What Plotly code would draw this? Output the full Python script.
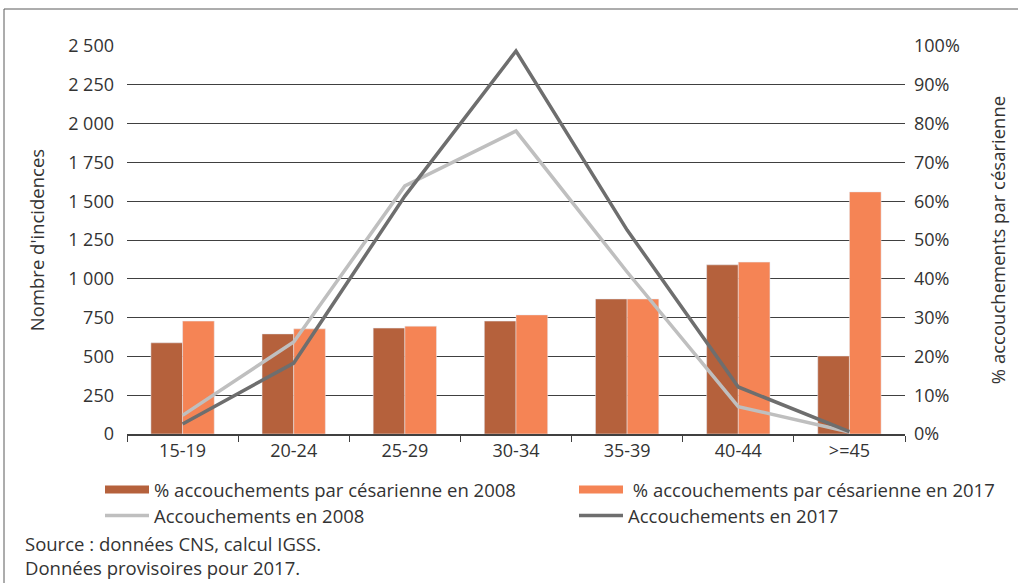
import plotly.graph_objects as go

categories = ["15-19", "20-24", "25-29", "30-34", "35-39", "40-44", ">=45"]
cesar_2008 = [23.5, 25.8, 27.3, 29.1, 34.8, 43.6, 20.1]
cesar_2017 = [29.1, 27.1, 27.8, 30.7, 34.8, 44.3, 62.4]
acc_2008 = [120, 593, 1598, 1952, 1044, 176, 13]
acc_2017 = [64, 457, 1533, 2468, 1314, 303, 15]

names = ["% accouchements par césarienne en 2008",
         " % accouchements par césarienne en 2017",
         "Accouchements en 2008",
         "Accouchements en 2017"]

C08 = "#B5613C"
C17 = "#F58455"
L08 = "#BFBFBF"
L17 = "#6E6E6E"
FONT = "Open Sans"
TXT = "#333333"
FS = 18.5

W, H = 1018, 583
ML, MR, MT, MB = 127, 113, 46, 149
PW, PH = W - ML - MR, H - MT - MB

def px(x):
    return (x - ML) / PW

def py(y):
    return (H - MB - y) / PH

fig = go.Figure()
fig.add_trace(go.Bar(x=categories, y=cesar_2008, name=names[0], marker_color=C08,
                     yaxis="y", showlegend=False))
fig.add_trace(go.Bar(x=categories, y=cesar_2017, name=names[1], marker_color=C17,
                     yaxis="y", showlegend=False))
fig.add_trace(go.Scatter(x=categories, y=acc_2008, name=names[2], mode="lines",
                         line=dict(color=L08, width=3.5), yaxis="y2", legend="legend3"))
fig.add_trace(go.Scatter(x=categories, y=acc_2017, name=names[3], mode="lines",
                         line=dict(color=L17, width=3.5), yaxis="y2", legend="legend4"))
# legend swatches for the bar series
fig.add_trace(go.Scatter(x=[None], y=[None], name=names[0], mode="lines", yaxis="y",
                         line=dict(color=C08, width=8), legend="legend"))
fig.add_trace(go.Scatter(x=[None], y=[None], name=names[1], mode="lines", yaxis="y",
                         line=dict(color=C17, width=8), legend="legend2"))

lfont = dict(family=FONT, size=FS, color=TXT)
def leg(x, y):
    return dict(x=px(x), y=py(y), xanchor="left", yanchor="middle",
                orientation="h", font=lfont, bgcolor="rgba(0,0,0,0)",
                itemwidth=44)

fig.update_layout(
    width=W, height=H,
    margin=dict(l=ML, r=MR, t=MT, b=MB, autoexpand=False),
    paper_bgcolor="white", plot_bgcolor="white",
    separators=", ",
    font=dict(family=FONT, size=FS, color=TXT),
    barmode="group", bargap=0.43, bargroupgap=0,
    xaxis=dict(type="category", tickson="boundaries", ticks="outside", ticklen=6,
               tickcolor="#404040", showline=True, linecolor="#404040", linewidth=1.5,
               showgrid=False, tickfont=dict(size=18, color=TXT)),
    yaxis=dict(range=[0, 100], tick0=0, dtick=10, ticksuffix="%", side="right",
               showgrid=True, gridcolor="#404040", gridwidth=1, zeroline=False,
               showline=False, ticks="", ticklabelstandoff=8,
               tickfont=dict(size=18, color=TXT),
               title=dict(text="% accouchements par césarienne", standoff=33,
                          font=dict(size=FS, color=TXT))),
    yaxis2=dict(range=[0, 2500], tick0=0, dtick=250, tickformat=",d",
                overlaying="y", side="left",
                showgrid=False, zeroline=False, showline=False,
                ticks="", ticklabelstandoff=12, tickfont=dict(size=18, color=TXT),
                title=dict(text="Nombre d'incidences", standoff=18,
                           font=dict(size=FS, color=TXT))),
    legend=leg(100, 490),
    legend2=leg(574, 490),
    legend3=leg(100, 516),
    legend4=leg(574, 516),
    shapes=[dict(type="rect", xref="paper", yref="paper",
                 x0=px(4), x1=px(1030), y0=py(600), y1=py(9),
                 line=dict(color="#5a5a5a", width=1))],
    annotations=[
        dict(text="Source : données CNS, calcul IGSS.<br>Données provisoires pour 2017.",
             xref="paper", yref="paper", align="left",
             x=px(23), y=py(582), xanchor="left", yanchor="bottom", showarrow=False,
             font=dict(size=FS, color=TXT)),
    ],
)

fig.write_html("out.html")
